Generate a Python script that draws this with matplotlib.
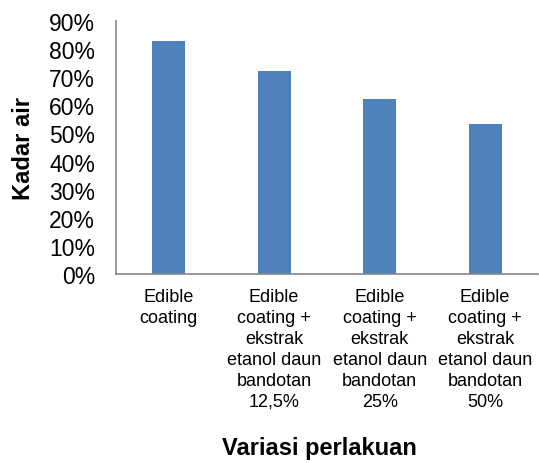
import matplotlib
matplotlib.use("Agg")
import matplotlib.pyplot as plt
from matplotlib.ticker import FuncFormatter

plt.rcParams['font.family'] = ['Liberation Sans', 'DejaVu Sans']

categories = ["Edible\ncoating",
              "Edible\ncoating +\nekstrak\netanol daun\nbandotan\n12,5%",
              "Edible\ncoating +\nekstrak\netanol daun\nbandotan\n25%",
              "Edible\ncoating +\nekstrak\netanol daun\nbandotan\n50%"]
kadar_air = [0.827, 0.722, 0.621, 0.532]

fig = plt.figure(figsize=(5.39, 4.64), dpi=100)
ax = fig.add_axes([0.215, 0.407, 0.783, 0.546])

x = range(len(categories))
ax.bar(x, kadar_air, width=0.31, color='#4F81BD')
ax.set_xlim(-0.5, 3.5)
ax.set_ylim(0, 0.9)
ax.set_yticks([i / 10 for i in range(10)])
ax.yaxis.set_major_formatter(FuncFormatter(lambda v, p: f"{v*100:.0f}%"))
ax.set_xticks(list(x))
ax.set_xticklabels(categories, fontsize=13, linespacing=1.3)
ax.tick_params(axis='y', labelsize=16.5, length=0, pad=15)
ax.tick_params(axis='x', length=0, pad=10)

for s in ['top', 'right']:
    ax.spines[s].set_visible(False)
for s in ['left', 'bottom']:
    ax.spines[s].set_color('#868686')
    ax.spines[s].set_linewidth(1.2)

ax.set_ylabel("Kadar air", fontsize=17, fontweight='bold', labelpad=10)
fig.text(0.592, 0.02, "Variasi perlakuan", fontsize=17, fontweight='bold', ha='center')

fig.savefig("out.png", dpi=100)
